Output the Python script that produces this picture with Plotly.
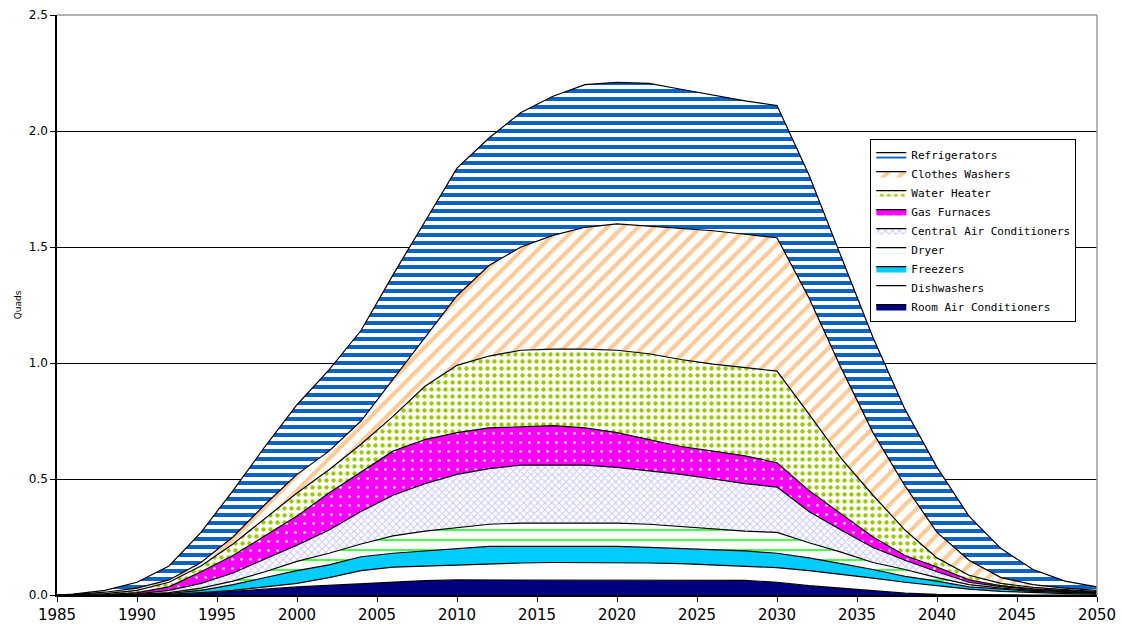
import plotly.graph_objects as go

# Annual energy use by appliance type (quads)
years = [1985, 1986, 1988, 1990, 1992, 1994, 1996, 1998, 2000, 2002, 2004, 2006,
         2008, 2010, 2012, 2014, 2016, 2018, 2020, 2022, 2024, 2026, 2028, 2030,
         2032, 2034, 2036, 2038, 2040, 2042, 2044, 2046, 2048, 2050]

room_air_conditioners = [0, 0, 0, 0, 0, 0.007, 0.015, 0.025, 0.035, 0.042, 0.05, 0.055,
                         0.062, 0.065, 0.065, 0.065, 0.065, 0.065, 0.065, 0.065, 0.064, 0.064, 0.063, 0.055,
                         0.04, 0.03, 0.018, 0.008, 0.003, 0.001, 0, 0, 0, 0]
dishwashers = [0, 0, 0, 0.001, 0.003, 0.003, 0.005, 0.01, 0.015, 0.033, 0.055, 0.065,
               0.063, 0.065, 0.07, 0.073, 0.075, 0.075, 0.075, 0.073, 0.071, 0.066, 0.062, 0.063,
               0.065, 0.06, 0.055, 0.047, 0.037, 0.024, 0.016, 0.01, 0.006, 0.004]
freezers = [0, 0, 0.001, 0.001, 0.004, 0.01, 0.025, 0.04, 0.055, 0.055, 0.06, 0.06,
            0.065, 0.07, 0.075, 0.072, 0.07, 0.07, 0.07, 0.067, 0.065, 0.065, 0.065, 0.062,
            0.055, 0.045, 0.037, 0.025, 0.02, 0.01, 0.008, 0.006, 0.005, 0.003]
dryer = [0, 0, 0, 0.001, 0.003, 0.01, 0.015, 0.025, 0.04, 0.05, 0.055, 0.075,
         0.085, 0.09, 0.095, 0.10, 0.10, 0.10, 0.10, 0.10, 0.095, 0.09, 0.085, 0.09,
         0.065, 0.05, 0.03, 0.03, 0.015, 0.01, 0.006, 0.004, 0.003, 0.002]
central_air_conditioners = [0, 0, 0, 0.002, 0.01, 0.02, 0.035, 0.055, 0.07, 0.10, 0.14, 0.175,
                            0.205, 0.23, 0.24, 0.25, 0.25, 0.25, 0.24, 0.23, 0.225, 0.215, 0.205, 0.195,
                            0.135, 0.095, 0.065, 0.04, 0.025, 0.01, 0.006, 0.004, 0.003, 0.002]
gas_furnaces = [0, 0, 0.001, 0.005, 0.015, 0.05, 0.075, 0.10, 0.125, 0.16, 0.17, 0.19,
                0.19, 0.18, 0.175, 0.165, 0.17, 0.16, 0.15, 0.135, 0.12, 0.12, 0.12, 0.105,
                0.09, 0.07, 0.045, 0.02, 0.02, 0.01, 0.004, 0.003, 0.002, 0.001]
water_heater = [0, 0.001, 0.004, 0.01, 0.02, 0.025, 0.05, 0.075, 0.10, 0.10, 0.12, 0.15,
                0.23, 0.29, 0.31, 0.33, 0.33, 0.34, 0.355, 0.37, 0.375, 0.375, 0.38, 0.395,
                0.33, 0.24, 0.18, 0.11, 0.04, 0.02, 0.01, 0.006, 0.004, 0.003]
clothes_washers = [0, 0.001, 0.006, 0.01, 0.01, 0.015, 0.03, 0.06, 0.08, 0.08, 0.10, 0.16,
                   0.21, 0.30, 0.39, 0.445, 0.49, 0.525, 0.545, 0.55, 0.565, 0.575, 0.575, 0.575,
                   0.50, 0.39, 0.27, 0.19, 0.11, 0.065, 0.025, 0.012, 0.007, 0.005]
refrigerators = [0, 0.002, 0.008, 0.025, 0.06, 0.13, 0.20, 0.25, 0.30, 0.35, 0.39, 0.45,
                 0.50, 0.55, 0.55, 0.58, 0.60, 0.615, 0.61, 0.615, 0.60, 0.585, 0.575, 0.57,
                 0.53, 0.48, 0.41, 0.33, 0.28, 0.19, 0.125, 0.065, 0.03, 0.015]

# Stacked from the bottom up: name, values, pattern shape, foreground, background, size, solidity
series = [
    ("Room Air Conditioners", room_air_conditioners, "", "#000080", "#000080", None, None),
    ("Dishwashers", dishwashers, "", "#FFFFFF", "#FFFFFF", None, None),
    ("Freezers", freezers, "", "#00CCFF", "#00CCFF", None, None),
    ("Dryer", dryer, "-", "#00FF00", "#FFFFFF", 10, 0.14),
    ("Central Air Conditioners", central_air_conditioners, "x", "#C4C4FF", "#FFFFFF", 5, 0.35),
    ("Gas Furnaces", gas_furnaces, ".", "#FFFFFF", "#FF00FF", 9, 0.07),
    ("Water Heater", water_heater, ".", "#99CC00", "#FFFFFF", 7, 0.3),
    ("Clothes Washers", clothes_washers, "/", "#FFC995", "#FFFFFF", 11, 0.38),
    ("Refrigerators", refrigerators, "-", "#0A64C8", "#FFFFFF", 8, 0.5),
]

fig = go.Figure()
for name, vals, shape, fg, bg, size, solidity in series:
    pattern = dict(shape=shape, fgcolor=fg, bgcolor=bg, fillmode="replace")
    if shape:
        pattern["size"] = size
        pattern["solidity"] = solidity
    fig.add_trace(go.Scatter(
        x=years, y=vals, name=name, mode="lines",
        stackgroup="one", fillcolor=bg,
        fillpattern=pattern,
        line=dict(color="#000000", width=1.2),
    ))

fig.update_layout(
    width=1122, height=630,
    margin=dict(l=57, r=25, t=15, b=35),
    paper_bgcolor="#FFFFFF", plot_bgcolor="#FFFFFF",
    showlegend=True,
    legend=dict(
        traceorder="reversed",
        x=0.782, y=0.786, xanchor="left", yanchor="top",
        bgcolor="#FFFFFF", bordercolor="#000000", borderwidth=1,
        font=dict(family="DejaVu Sans Mono", size=11, color="#000000"),
        itemwidth=30, tracegroupgap=0,
    ),
    font=dict(family="DejaVu Sans", color="#000000"),
    xaxis=dict(
        range=[1985, 2050], tick0=1985, dtick=5, automargin=False,
        showgrid=False, zeroline=False,
        showline=True, linecolor="#000000", linewidth=1.5,
        ticks="outside", ticklen=5, tickcolor="#000000",
        tickfont=dict(family="DejaVu Sans", size=15, color="#000000"),
    ),
    yaxis=dict(
        range=[0, 2.5], tick0=0, dtick=0.5, tickformat=".1f", automargin=False,
        showgrid=True, gridcolor="#000000", gridwidth=1,
        zeroline=False,
        showline=True, linecolor="#000000", linewidth=1.5,
        ticks="outside", ticklen=5, tickcolor="#000000",
        tickfont=dict(family="DejaVu Sans", size=12, color="#000000"),
        title=dict(text="Quads", font=dict(family="DejaVu Sans", size=9, color="#000000"), standoff=6),
    ),
    shapes=[
        dict(type="line", xref="paper", yref="paper", x0=0, x1=1, y0=1, y1=1,
             line=dict(color="#999999", width=1.5), layer="above"),
        dict(type="line", xref="paper", yref="paper", x0=1, x1=1, y0=0, y1=1,
             line=dict(color="#999999", width=1.5), layer="above"),
    ],
)

fig.write_html("out.html")
